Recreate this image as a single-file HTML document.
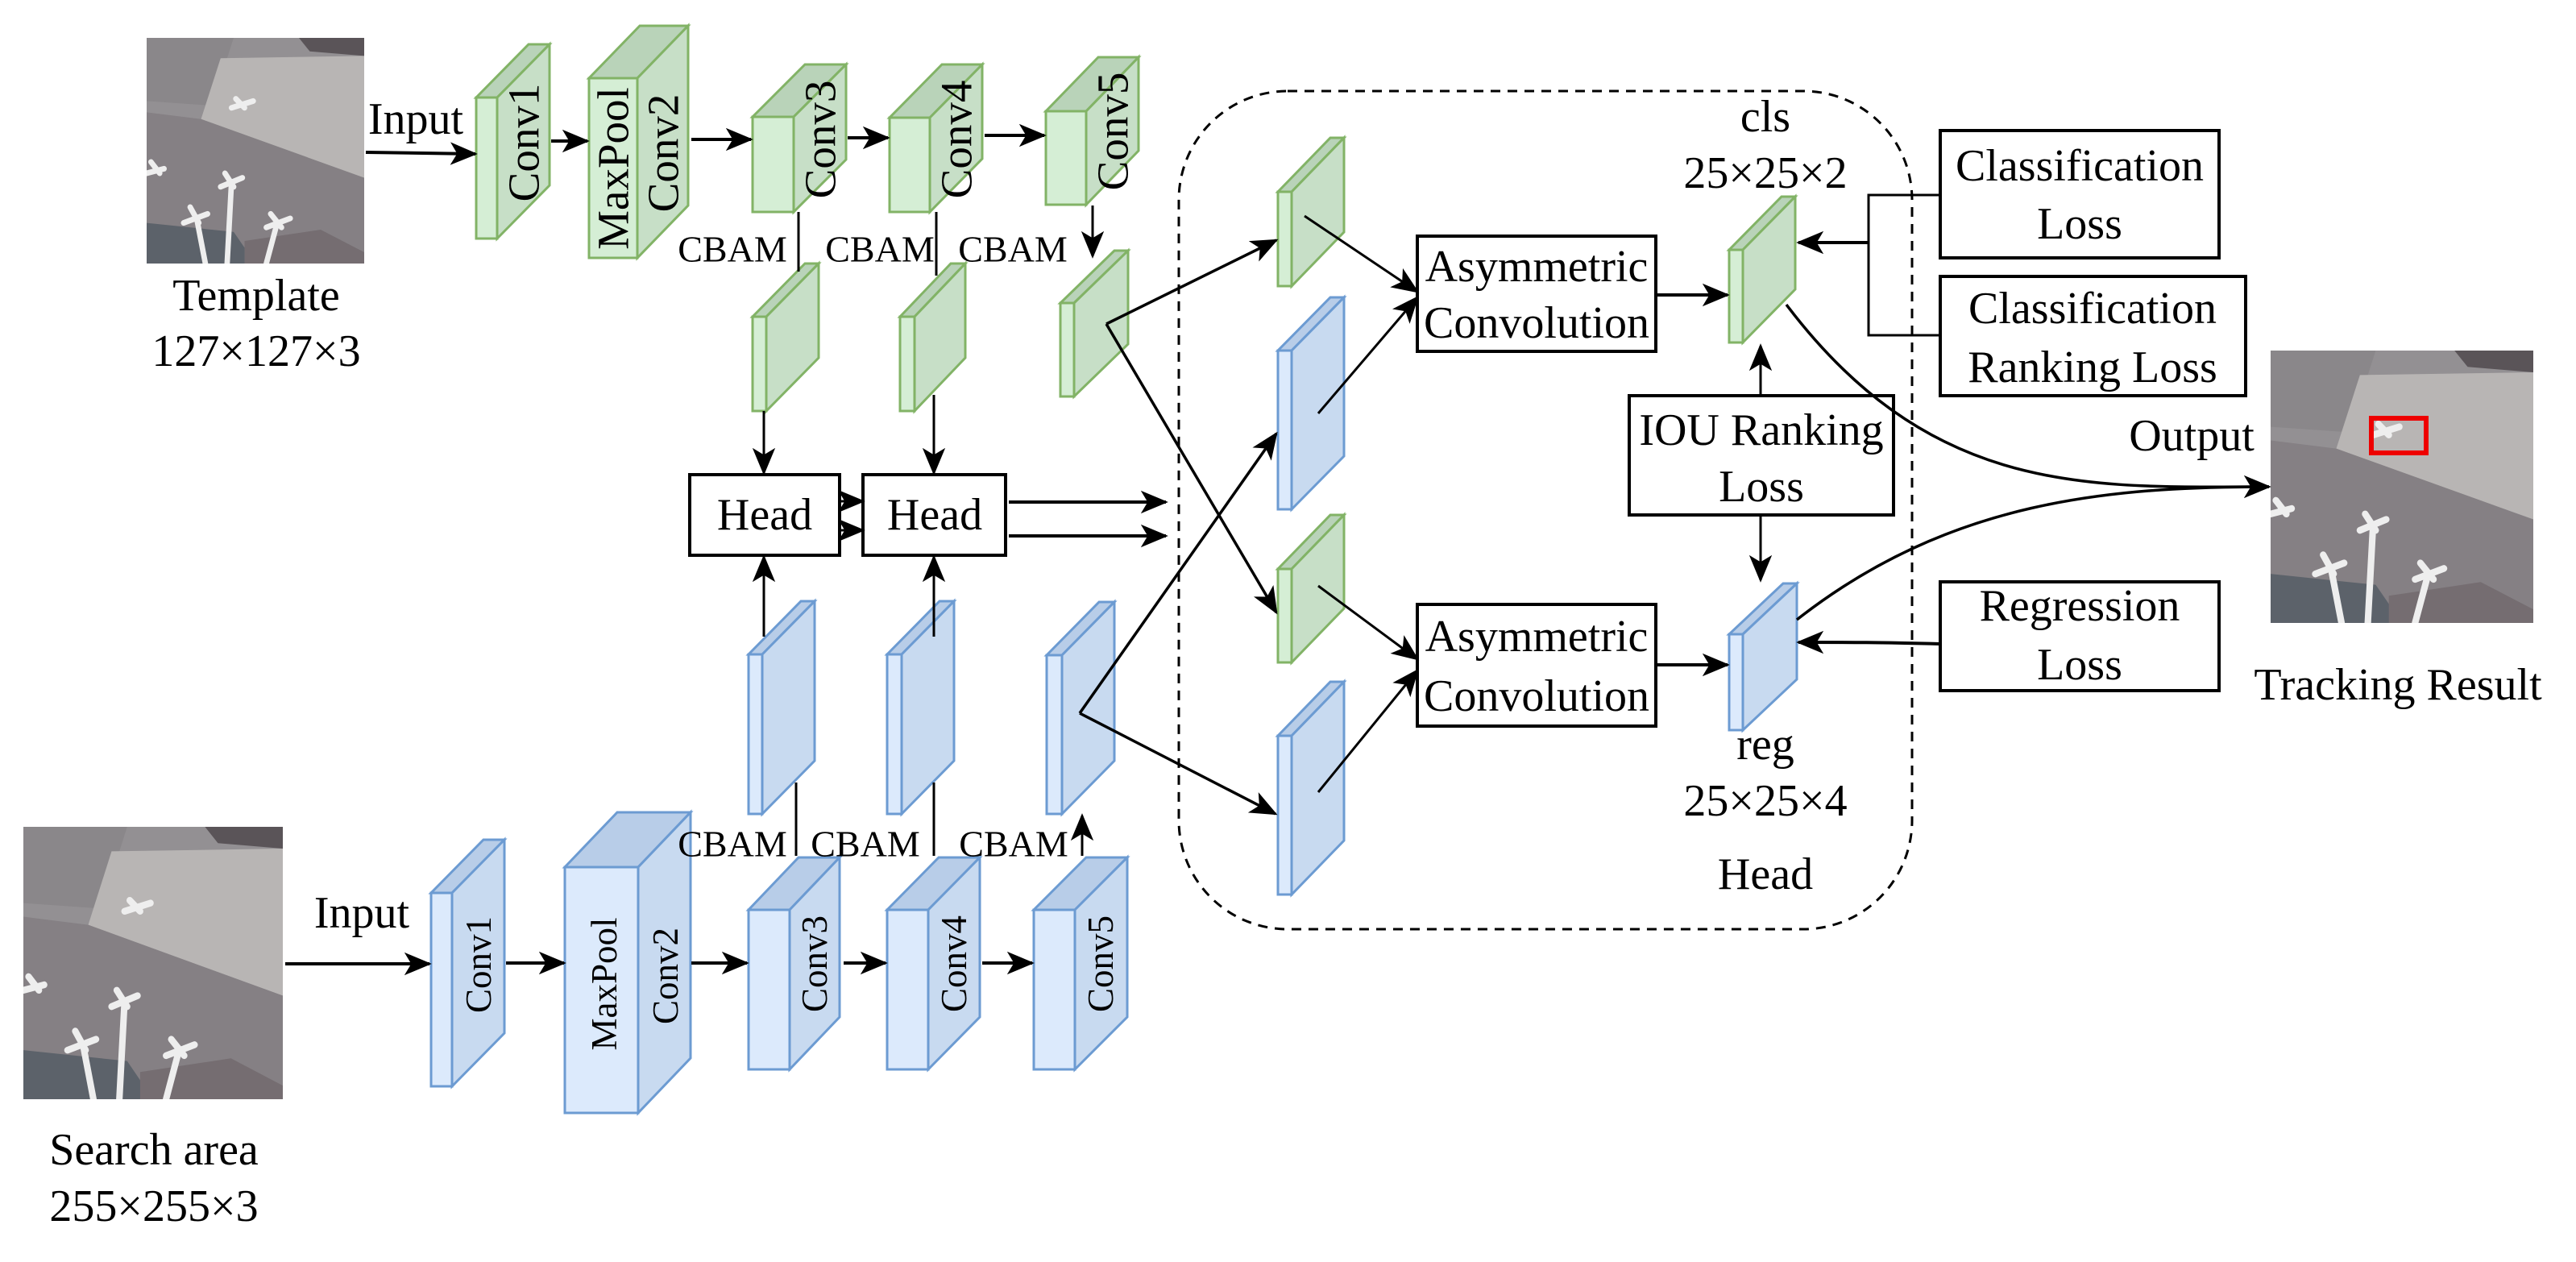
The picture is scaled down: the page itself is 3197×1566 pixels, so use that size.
<!DOCTYPE html>
<html><head><meta charset="utf-8"><style>
html,body{margin:0;padding:0;background:#fff;}
svg{display:block;}
svg text{font-family:"Liberation Serif","Times New Roman",serif;fill:#000;}
</style></head><body>
<svg width="3197" height="1566" viewBox="0 0 3197 1566" xmlns="http://www.w3.org/2000/svg" font-family="Liberation Serif, Times New Roman, serif">
<defs>
<marker id="a" viewBox="0 0 12 10" refX="11" refY="5" markerWidth="34" markerHeight="30" markerUnits="userSpaceOnUse" orient="auto"><path d="M0,0 L12,5 L0,10 L3,5 Z" fill="#000"/></marker>
<symbol id="img" viewBox="0 0 100 100" preserveAspectRatio="none">
<rect x="0" y="0" width="100" height="100" fill="#939093"/>
<polygon points="0,0 40,0 30,30 0,28" fill="#8a878a"/>
<polygon points="70,0 100,0 100,8 75,6" fill="#5a5458"/>
<polygon points="34,9 100,8 100,62 25,36" fill="#b8b5b4"/>
<polygon points="0,33 25,36 100,62 100,100 0,100" fill="#858084"/>
<polygon points="0,82 40,86 50,100 0,100" fill="#5c626a"/>
<polygon points="45,90 80,85 100,95 100,100 45,100" fill="#756d71"/>
<g stroke="#eee" stroke-width="2.5" fill="none" stroke-linecap="round">
<path d="M36,60 L40,66 M34,66 L44,62 M39,64 L37,100"/>
<path d="M20,75 L24,82 M17,82 L28,78 M23,80 L27,100"/>
<path d="M57,78 L62,84 M55,84 L66,80 M60,82 L55,100"/>
<path d="M2,55 L6,60 M0,60 L8,58"/>
<path d="M41,27 L45,31 M39,31 L49,28"/>
</g>
</symbol>
</defs>

<use href="#img" x="182" y="47" width="270" height="280"/>
<use href="#img" x="29" y="1026" width="322" height="338"/>
<use href="#img" x="2818" y="435" width="326" height="338"/>
<rect x="2943" y="519" width="68" height="43" fill="none" stroke="#e00" stroke-width="6"/>

<g stroke-width="3" stroke-linejoin="miter">
<g stroke="#82b366">
<polygon points="591,121 617,121 682,55 656,55" fill="#b9d3b9"/><polygon points="617,121 682,55 682,230 617,296" fill="#c7dfc7"/><rect x="591" y="121" width="26" height="175" fill="#d5eed5"/>
<polygon points="731,97 791,97 854,32 794,32" fill="#b9d3b9"/><polygon points="791,97 854,32 854,255 791,320" fill="#c7dfc7"/><rect x="731" y="97" width="60" height="223" fill="#d5eed5"/>
<polygon points="934,145 985,145 1050,80 999,80" fill="#b9d3b9"/><polygon points="985,145 1050,80 1050,198 985,263" fill="#c7dfc7"/><rect x="934" y="145" width="51" height="118" fill="#d5eed5"/>
<polygon points="1104,146 1154,146 1219,80 1169,80" fill="#b9d3b9"/><polygon points="1154,146 1219,80 1219,197 1154,263" fill="#c7dfc7"/><rect x="1104" y="146" width="50" height="117" fill="#d5eed5"/>
<polygon points="1298,138 1348,138 1413,71 1363,71" fill="#b9d3b9"/><polygon points="1348,138 1413,71 1413,187 1348,254" fill="#c7dfc7"/><rect x="1298" y="138" width="50" height="116" fill="#d5eed5"/>
<polygon points="934,393 951,393 1016,327 999,327" fill="#b9d3b9"/><polygon points="951,393 1016,327 1016,444 951,510" fill="#c7dfc7"/><rect x="934" y="393" width="17" height="117" fill="#d5eed5"/>
<polygon points="1117,393 1135,393 1198,327 1180,327" fill="#b9d3b9"/><polygon points="1135,393 1198,327 1198,444 1135,510" fill="#c7dfc7"/><rect x="1117" y="393" width="18" height="117" fill="#d5eed5"/>
<polygon points="1316,376 1333,376 1400,311 1383,311" fill="#b9d3b9"/><polygon points="1333,376 1400,311 1400,427 1333,492" fill="#c7dfc7"/><rect x="1316" y="376" width="17" height="116" fill="#d5eed5"/>
<polygon points="1586,238 1603,238 1668,171 1651,171" fill="#b9d3b9"/><polygon points="1603,238 1668,171 1668,288 1603,355" fill="#c7dfc7"/><rect x="1586" y="238" width="17" height="117" fill="#d5eed5"/>
<polygon points="1586,706 1603,706 1668,639 1651,639" fill="#b9d3b9"/><polygon points="1603,706 1668,639 1668,755 1603,822" fill="#c7dfc7"/><rect x="1586" y="706" width="17" height="116" fill="#d5eed5"/>
<polygon points="2146,310 2163,310 2228,244 2211,244" fill="#b9d3b9"/><polygon points="2163,310 2228,244 2228,359 2163,425" fill="#c7dfc7"/><rect x="2146" y="310" width="17" height="115" fill="#d5eed5"/>
</g>
<g stroke="#6c9bd2">
<polygon points="929,812 946,812 1011,746 994,746" fill="#b8cde8"/><polygon points="946,812 1011,746 1011,944 946,1010" fill="#c8daf0"/><rect x="929" y="812" width="17" height="198" fill="#dceafc"/>
<polygon points="1101,812 1119,812 1184,746 1166,746" fill="#b8cde8"/><polygon points="1119,812 1184,746 1184,944 1119,1010" fill="#c8daf0"/><rect x="1101" y="812" width="18" height="198" fill="#dceafc"/>
<polygon points="1299,813 1318,813 1383,747 1364,747" fill="#b8cde8"/><polygon points="1318,813 1383,747 1383,944 1318,1010" fill="#c8daf0"/><rect x="1299" y="813" width="19" height="197" fill="#dceafc"/>
<polygon points="535,1108 561,1108 626,1042 600,1042" fill="#b8cde8"/><polygon points="561,1108 626,1042 626,1282 561,1348" fill="#c8daf0"/><rect x="535" y="1108" width="26" height="240" fill="#dceafc"/>
<polygon points="701,1076 792,1076 857,1008 766,1008" fill="#b8cde8"/><polygon points="792,1076 857,1008 857,1313 792,1381" fill="#c8daf0"/><rect x="701" y="1076" width="91" height="305" fill="#dceafc"/>
<polygon points="929,1129 980,1129 1042,1064 991,1064" fill="#b8cde8"/><polygon points="980,1129 1042,1064 1042,1262 980,1327" fill="#c8daf0"/><rect x="929" y="1129" width="51" height="198" fill="#dceafc"/>
<polygon points="1101,1129 1152,1129 1216,1064 1165,1064" fill="#b8cde8"/><polygon points="1152,1129 1216,1064 1216,1262 1152,1327" fill="#c8daf0"/><rect x="1101" y="1129" width="51" height="198" fill="#dceafc"/>
<polygon points="1283,1129 1334,1129 1399,1064 1348,1064" fill="#b8cde8"/><polygon points="1334,1129 1399,1064 1399,1262 1334,1327" fill="#c8daf0"/><rect x="1283" y="1129" width="51" height="198" fill="#dceafc"/>
<polygon points="1586,435 1603,435 1668,369 1651,369" fill="#b8cde8"/><polygon points="1603,435 1668,369 1668,566 1603,632" fill="#c8daf0"/><rect x="1586" y="435" width="17" height="197" fill="#dceafc"/>
<polygon points="1586,913 1603,913 1668,846 1651,846" fill="#b8cde8"/><polygon points="1603,913 1668,846 1668,1043 1603,1110" fill="#c8daf0"/><rect x="1586" y="913" width="17" height="197" fill="#dceafc"/>
<polygon points="2146,787 2163,787 2230,724 2213,724" fill="#b8cde8"/><polygon points="2163,787 2230,724 2230,843 2163,906" fill="#c8daf0"/><rect x="2146" y="787" width="17" height="119" fill="#dceafc"/>
</g>
</g>

<rect x="1463" y="113" width="910" height="1040" rx="135" ry="135" fill="none" stroke="#000" stroke-width="3" stroke-dasharray="12,9"/>

<g fill="#fff" stroke="#000" stroke-width="4">
<rect x="856" y="589" width="186" height="100"/>
<rect x="1071" y="589" width="177" height="100"/>
<rect x="1759" y="293" width="296" height="143"/>
<rect x="1759" y="750" width="296" height="151"/>
<rect x="2022" y="491" width="328" height="148"/>
<rect x="2408" y="162" width="346" height="158"/>
<rect x="2408" y="343" width="379" height="148"/>
<rect x="2408" y="722" width="346" height="135"/>
</g>

<g stroke="#000" stroke-width="4" fill="none">
<line x1="454" y1="189" x2="590" y2="191" marker-end="url(#a)"/>
<line x1="684" y1="175" x2="729" y2="175" marker-end="url(#a)"/>
<line x1="858" y1="173" x2="932" y2="173" marker-end="url(#a)"/>
<line x1="1052" y1="171" x2="1102" y2="171" marker-end="url(#a)"/>
<line x1="1222" y1="168" x2="1296" y2="168" marker-end="url(#a)"/>
<line x1="991" y1="263" x2="991" y2="337" stroke-width="3"/>
<line x1="1162" y1="263" x2="1162" y2="342" stroke-width="3"/>
<line x1="1356" y1="255" x2="1356" y2="318" stroke-width="3" marker-end="url(#a)"/>
<line x1="948" y1="510" x2="948" y2="587" stroke-width="3" marker-end="url(#a)"/>
<line x1="1159" y1="490" x2="1159" y2="587" stroke-width="3" marker-end="url(#a)"/>
<line x1="1042" y1="622" x2="1071" y2="622" stroke-width="3" marker-end="url(#a)"/>
<line x1="1042" y1="658" x2="1071" y2="658" stroke-width="3" marker-end="url(#a)"/>
<line x1="1252" y1="623" x2="1447" y2="623" marker-end="url(#a)"/>
<line x1="1252" y1="665" x2="1447" y2="665" marker-end="url(#a)"/>
<line x1="948" y1="790" x2="948" y2="691" stroke-width="3" marker-end="url(#a)"/>
<line x1="1159" y1="790" x2="1159" y2="691" stroke-width="3" marker-end="url(#a)"/>
<line x1="354" y1="1196" x2="533" y2="1196" marker-end="url(#a)"/>
<line x1="628" y1="1195" x2="700" y2="1195" marker-end="url(#a)"/>
<line x1="858" y1="1195" x2="927" y2="1195" marker-end="url(#a)"/>
<line x1="1047" y1="1195" x2="1099" y2="1195" marker-end="url(#a)"/>
<line x1="1219" y1="1195" x2="1281" y2="1195" marker-end="url(#a)"/>
<line x1="988" y1="971" x2="988" y2="1062" stroke-width="3"/>
<line x1="1159" y1="971" x2="1159" y2="1062" stroke-width="3"/>
<line x1="1343" y1="1062" x2="1343" y2="1012" stroke-width="3" marker-end="url(#a)"/>
<line x1="1373" y1="402" x2="1584" y2="760" stroke-width="3.5" marker-end="url(#a)"/>
<line x1="1373" y1="402" x2="1584" y2="298" stroke-width="3.5" marker-end="url(#a)"/>
<line x1="1340" y1="885" x2="1583" y2="1010" stroke-width="3.5" marker-end="url(#a)"/>
<line x1="1340" y1="885" x2="1584" y2="538" stroke-width="3.5" marker-end="url(#a)"/>
<line x1="1619" y1="268" x2="1759" y2="362" stroke-width="3" marker-end="url(#a)"/>
<line x1="1636" y1="513" x2="1759" y2="369" stroke-width="3" marker-end="url(#a)"/>
<line x1="1636" y1="727" x2="1759" y2="818" stroke-width="3" marker-end="url(#a)"/>
<line x1="1636" y1="983" x2="1759" y2="832" stroke-width="3" marker-end="url(#a)"/>
<line x1="2055" y1="366" x2="2144" y2="366" marker-end="url(#a)"/>
<line x1="2055" y1="825" x2="2144" y2="825" marker-end="url(#a)"/>
<line x1="2185" y1="491" x2="2185" y2="429" stroke-width="3" marker-end="url(#a)"/>
<line x1="2185" y1="639" x2="2185" y2="720" stroke-width="3" marker-end="url(#a)"/>
<polyline points="2408,242 2319,242 2319,416 2408,416" stroke-width="3"/>
<line x1="2319" y1="301" x2="2232" y2="301" marker-end="url(#a)"/>
<path d="M2408,799 C2330,797 2300,797 2232,797" marker-end="url(#a)"/>
<path d="M2217,378 C2400,620 2600,604 2816,604" stroke-width="3.5" marker-end="url(#a)"/>
<path d="M2230,769 C2420,620 2620,604 2816,604" stroke-width="3.5"/>
</g>

<g font-size="56" text-anchor="middle" dominant-baseline="central">
<text x="318" y="367">Template</text>
<text x="318" y="436">127×127×3</text>
<text x="516" y="148">Input</text>
<text x="191" y="1427">Search area</text>
<text x="191" y="1497">255×255×3</text>
<text x="449" y="1133">Input</text>
<text x="949" y="639">Head</text>
<text x="1160" y="639">Head</text>
<text x="2191" y="145">cls</text>
<text x="2191" y="215">25×25×2</text>
<text x="2191" y="924">reg</text>
<text x="2191" y="994">25×25×4</text>
<text x="2191" y="1085">Head</text>
<text x="1907" y="331">Asymmetric</text>
<text x="1907" y="401">Convolution</text>
<text x="1907" y="790">Asymmetric</text>
<text x="1907" y="864">Convolution</text>
<text x="2581" y="206">Classification</text>
<text x="2581" y="278">Loss</text>
<text x="2597" y="383">Classification</text>
<text x="2597" y="456">Ranking Loss</text>
<text x="2186" y="534">IOU Ranking</text>
<text x="2186" y="604">Loss</text>
<text x="2581" y="752">Regression</text>
<text x="2581" y="825">Loss</text>
<text x="2720" y="541">Output</text>
<text x="2976" y="850">Tracking Result</text>
</g>
<g font-size="46" text-anchor="middle" dominant-baseline="central">
<text x="909" y="309">CBAM</text>
<text x="1092" y="309">CBAM</text>
<text x="1257" y="309">CBAM</text>
<text x="909" y="1047">CBAM</text>
<text x="1074" y="1047">CBAM</text>
<text x="1258" y="1047">CBAM</text>
</g>
<g font-size="55" text-anchor="middle" dominant-baseline="central">
<text transform="translate(650,177) rotate(-90)">Conv1</text>
<text transform="translate(761,209) rotate(-90)">MaxPool</text>
<text transform="translate(823,190) rotate(-90)">Conv2</text>
<text transform="translate(1018,173) rotate(-90)">Conv3</text>
<text transform="translate(1187,173) rotate(-90)">Conv4</text>
<text transform="translate(1381,163) rotate(-90)">Conv5</text>
</g>
<g font-size="45" text-anchor="middle" dominant-baseline="central">
<text transform="translate(594,1197) rotate(-90)">Conv1</text>
<text transform="translate(750,1221) rotate(-90)">MaxPool</text>
<text transform="translate(826,1211) rotate(-90)">Conv2</text>
<text transform="translate(1011,1196) rotate(-90)">Conv3</text>
<text transform="translate(1184,1196) rotate(-90)">Conv4</text>
<text transform="translate(1366,1196) rotate(-90)">Conv5</text>
</g>
</svg>
</body></html>
